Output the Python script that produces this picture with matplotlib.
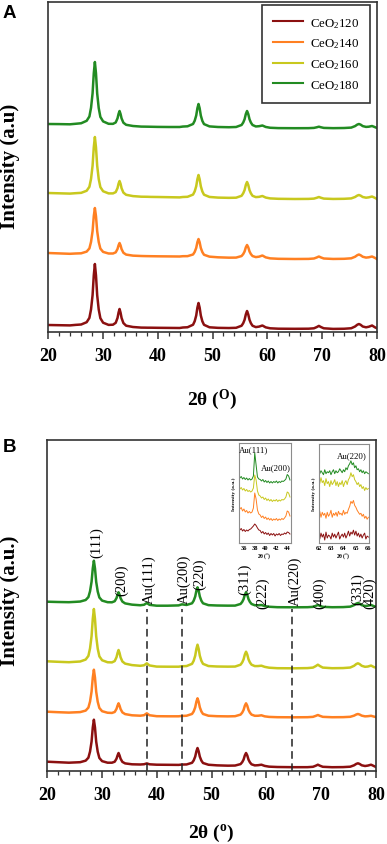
import matplotlib
matplotlib.use("Agg")
import matplotlib.pyplot as plt
from matplotlib.ticker import MultipleLocator

plt.rcParams['font.family'] = ['Liberation Serif', 'DejaVu Serif']
plt.rcParams['mathtext.fontset'] = 'custom'
plt.rcParams['mathtext.rm'] = 'Liberation Serif'
plt.rcParams['mathtext.it'] = 'Liberation Serif:italic'
plt.rcParams['mathtext.bf'] = 'Liberation Serif:bold'

# ---------------- data ----------------
two_theta = [20, 22, 24, 25, 26.05, 27.05, 27.55, 27.85, 28.13, 28.35,
             28.55, 28.75, 28.97, 29.25, 29.55, 30.05, 31.05, 31.85, 32.35, 32.68,
             32.87, 33.05, 33.23, 33.42, 33.75, 34.25, 35.5, 37.0, 37.7, 38.2,
             38.7, 40, 42, 44, 44.6, 45.45, 46.45, 46.75, 47.03, 47.25,
             47.45, 47.65, 47.87, 48.15, 48.45, 49.45, 51, 53, 54.3, 55.3,
             55.6, 55.85, 56.08, 56.3, 56.52, 56.75, 57.0, 57.3, 57.9, 58.5,
             59.1, 59.7, 60.5, 62, 65, 67.5, 68.5, 69.0, 69.4, 69.8,
             70.3, 72, 74, 75.3, 76.0, 76.4, 76.7, 77.0, 77.4, 78.0,
             78.5, 79.1, 79.6, 80]

samples = ['CeO$_2$120', 'CeO$_2$140', 'CeO$_2$160', 'CeO$_2$180']

# Panel A intensities (offset-stacked, arbitrary units)
a_ceo120 = [7, 6.8, 6.6, 7.1, 7.5, 9.8, 14.1, 22.7, 36.9, 56.7,
            68, 56.6, 36.8, 22.5, 13.8, 9.3, 7.1, 7.3, 9.2, 14.1,
            19.5, 23, 19.4, 14, 8.95, 6.3, 5.0, 4.4, 4.35, 4.3,
            4.3, 4.2, 4.1, 4.0, 4.5, 4.75, 7.25, 10.75, 16.5, 24.5,
            29, 24.5, 16.5, 10.7, 7.2, 4.7, 4.15, 3.97, 4.2, 6.25,
            8.8, 12.2, 17.6, 21, 17.6, 12.2, 8.8, 6.25, 4.9, 5.4,
            6.5, 4.65, 3.7, 3.3, 3.2, 3.3, 3.7, 4.9, 6.1, 4.9,
            3.7, 3.1, 3.25, 3.75, 5.5, 7.25, 8, 7.25, 5.5, 4.7,
            5.25, 6.5, 4.75, 3.7]
a_ceo140 = [79, 78.6, 78.2, 78.5, 78.7, 80.4, 83.6, 90.15, 100.9, 115.9,
            124, 115.85, 100.8, 90, 83.4, 80.1, 78.5, 78.5, 79.65, 83.05,
            86.75, 89, 86.65, 82.85, 79.25, 77.4, 76.35, 76, 75.9, 75.85,
            75.8, 75.7, 75.6, 75.5, 75.8, 75.85, 77.5, 80.05, 84.1, 89.9,
            93, 89.85, 84, 79.9, 77.25, 75.35, 74.7, 74.33, 74.4, 75.95,
            77.9, 80.5, 84.7, 87, 84.7, 80.5, 77.9, 75.95, 74.9, 75.35,
            76.5, 74.65, 73.65, 73.2, 73, 73.1, 73.5, 74.5, 75.5, 74.5,
            73.5, 73.05, 73.2, 73.7, 75.25, 76.8, 77.5, 76.8, 75.25, 74.4,
            74.7, 75.5, 74.2, 72.9]
a_ceo160 = [139, 138.7, 138.4, 138.8, 139.15, 141.25, 145.2, 153.15, 166.35, 184.75,
            195, 184.7, 166.25, 152.95, 144.9, 140.75, 138.6, 138.6, 139.9, 143.95,
            148.4, 151, 148.25, 143.7, 139.4, 137.2, 135.9, 135.3, 135.25, 135.2,
            135.1, 135, 134.8, 134.6, 135, 135.2, 137.4, 140.6, 145.75, 152.95,
            157, 152.9, 145.7, 140.5, 137.3, 135.05, 134.4, 134.16, 134.3, 136.2,
            138.7, 141.9, 147.1, 150, 147.1, 141.9, 138.7, 136.2, 134.9, 135.15,
            136, 134.45, 133.6, 133.2, 133, 133.1, 133.4, 134.2, 135, 134.2,
            133.4, 133.05, 133.2, 133.6, 135, 136.4, 137, 136.4, 135, 134.3,
            134.65, 135.5, 134.2, 133.0]
a_ceo180 = [208, 207.9, 207.7, 208.2, 208.75, 211.2, 215.5, 224.25, 238.7, 258.8,
            270, 258.75, 238.5, 223.95, 215.1, 210.6, 208.2, 208.15, 209.55, 213.7,
            218.15, 221, 218.05, 213.55, 209.3, 207.2, 206, 205.4, 205.35, 205.3,
            205.25, 205.1, 205, 205, 205.45, 205.7, 208, 211.2, 216.5, 223.9,
            228, 223.9, 216.45, 211.1, 207.9, 205.6, 205, 204.77, 205, 207,
            209.45, 212.75, 218, 221, 218, 212.75, 209.45, 207, 205.55, 205.8,
            206.5, 205.05, 204.25, 203.9, 203.8, 203.85, 204.1, 204.7, 205.3, 204.7,
            204.1, 203.85, 204, 204.4, 205.9, 207.4, 208, 207.4, 205.9, 205.1,
            205.3, 206, 204.9, 204.0]

# Panel B intensities (Au-loaded samples)
b_ceo120 = [9.3, 8.8, 8.3, 8.55, 8.8, 10.35, 13.3, 19.45, 29.5, 43.6,
            51.3, 43.55, 29.4, 19.25, 13, 9.85, 8.3, 8.3, 9.3, 12.35,
            15.6, 18, 15.6, 12.25, 9.1, 7.6, 6.7, 6.5, 6.75, 7.6,
            6.7, 6.3, 6.2, 6.1, 6.45, 6.55, 8.2, 10.55, 14.4, 19.8,
            23, 19.8, 14.35, 10.45, 8, 6.25, 5.65, 5.33, 5.45, 6.9,
            8.85, 11.4, 15.6, 18, 15.6, 11.35, 8.7, 6.7, 5.6, 5.8,
            6.3, 5.1, 4.35, 4.0, 3.8, 3.83, 4.2, 5.25, 6.3, 5.25,
            4.2, 3.78, 3.9, 4.3, 5.7, 7.1, 7.7, 7.1, 5.7, 5.0,
            5.4, 6.3, 5.0, 4.0]
b_ceo140 = [59.3, 58.8, 58.4, 58.65, 58.9, 60.4, 63.4, 69.45, 79.5, 93.45,
            101.3, 93.4, 79.35, 69.2, 63, 59.8, 58.25, 58.05, 59.05, 62.15,
            65.45, 67.7, 65.35, 61.9, 58.6, 56.9, 55.7, 55.3, 55.8, 57.7,
            55.75, 54.8, 54.7, 54.7, 55.05, 55.25, 57.05, 59.55, 63.7, 69.45,
            72.7, 69.45, 63.7, 59.55, 57.05, 55.25, 54.8, 54.63, 54.8, 56.4,
            58.4, 61.05, 65.3, 67.7, 65.3, 61.05, 58.4, 56.4, 55.2, 55.25,
            55.7, 54.65, 54.1, 53.8, 53.7, 53.8, 54.15, 55.1, 56, 55.1,
            54.15, 53.77, 53.85, 54.2, 55.35, 56.5, 57, 56.5, 55.35, 54.65,
            54.8, 55.2, 54.45, 53.9]
b_ceo160 = [109.7, 109.2, 108.8, 109.15, 109.5, 111.45, 115.1, 122.65, 135, 152.25,
            162, 152.15, 134.8, 122.3, 114.65, 110.75, 108.75, 108.6, 109.95, 113.9,
            118.15, 121, 118.05, 113.65, 109.5, 107.35, 105.9, 105.2, 105.7, 107.7,
            105.55, 104.4, 104.3, 104.3, 104.75, 104.95, 107.15, 110.25, 115.3, 122.3,
            126.3, 122.3, 115.3, 110.25, 107.15, 104.95, 104.5, 104.35, 104.45, 106.3,
            108.6, 111.65, 116.5, 119.3, 116.5, 111.65, 108.6, 106.3, 104.9, 104.95,
            105.3, 104.15, 103.3, 102.8, 102.7, 102.9, 103.4, 104.85, 106.3, 104.85,
            103.4, 102.8, 102.95, 103.45, 105.2, 106.95, 107.7, 106.95, 105.2, 104.2,
            104.45, 105.45, 104.0, 103.4]
b_ceo180 = [169.3, 169, 168.8, 169.1, 169.45, 171, 173.9, 179.75, 189.35, 202.7,
            210.3, 202.65, 189.2, 179.45, 173.5, 170.4, 168.8, 168.7, 169.8, 172.95,
            176.4, 178.7, 176.3, 172.75, 169.4, 167.6, 166.35, 165.75, 166.25, 168,
            166.15, 165.3, 165.3, 165.6, 166.65, 166.05, 167.7, 170.3, 174.5, 180.4,
            183.7, 180.4, 174.5, 170.3, 167.7, 165.85, 165.5, 165.35, 165.4, 167.05,
            169.1, 171.85, 176.25, 178.7, 176.25, 171.85, 169.1, 167.05, 165.75, 165.7,
            166, 164.95, 164.25, 163.8, 163.7, 163.8, 164.15, 165.1, 166, 165.1,
            164.15, 163.77, 163.9, 164.35, 165.85, 167.35, 168, 167.35, 165.85, 165,
            165.3, 166, 164.85, 164.1]

# Reflection labels (panel B)
hkl_labels = ['(111)', '(200)', 'Au(111)', 'Au(200)', '(220)', '(311)', '(222)',
              'Au(220)', '(400)', '(331)', '(420)']
hkl_x = [29.05, 33.6, 38.6, 45.0, 47.9, 56.1, 59.4, 65.2, 69.8, 76.6, 78.9]
hkl_y = [214, 176, 168, 168, 182, 177, 163, 166, 163, 167, 163]
au_lines = [38.2, 44.6, 64.7]
au_line_top = 162

# Inset 1 (Au(111), Au(200) region)
ins1_x = [35.0, 35.25, 35.5, 35.75, 36.0, 36.25, 36.5, 36.75, 37.0, 37.25, 37.5, 37.75,
          38.0, 38.25, 38.5, 38.75, 39.0, 39.25, 39.5, 39.75, 40.0, 40.25, 40.5, 40.75,
          41.0, 41.25, 41.5, 41.75, 42.0, 42.25, 42.5, 42.75, 43.0, 43.25, 43.5, 43.75,
          44.0, 44.25, 44.5]
ins1_120 = [15, 13, 14.5, 12, 13.5, 11.5, 13, 12, 13.5, 14, 15.5, 17, 19, 17.5, 15, 13, 12.5,
            10, 11.5, 9, 10.5, 8.5, 10, 7.5, 9.5, 8, 9.5, 7, 9, 8, 9.5, 7.5, 9, 8.5, 10, 9,
            11, 10.5, 9]
ins1_140 = [37, 34, 35.5, 32, 34, 31, 32.5, 30, 31.5, 30, 31, 35, 50, 44, 33, 29, 28, 25.5,
            27, 24.5, 26, 23.5, 25, 23, 24.5, 22.5, 24, 23, 24.5, 22.5, 24, 23, 24.5, 23.5,
            25, 27, 32, 31, 27]
ins1_160 = [56, 54, 55.5, 53, 54.5, 52, 53.5, 51.5, 52.5, 51, 52, 55, 68, 63, 52, 48, 47, 45,
            46, 43.5, 45, 42.5, 44, 42, 43.5, 41.5, 43, 42, 43.5, 41.5, 43, 42, 43.5, 43, 44,
            46, 51, 50, 46]
ins1_180 = [67, 65, 66.5, 64, 65.5, 63.5, 65, 63, 64.5, 63, 64, 67, 90, 78, 66, 64, 63.5, 62,
            63.5, 61, 62.5, 60.5, 62, 60, 61.5, 60, 61.5, 60.5, 62, 60, 61.5, 60.5, 62, 61.5,
            62.5, 64, 68.5, 67, 63]

# Inset 2 (Au(220) region)
ins2_x = [62.0, 62.1, 62.2, 62.3, 62.4, 62.5, 62.6, 62.7, 62.8, 62.9, 63.0, 63.1, 63.2, 63.3,
          63.4, 63.5, 63.6, 63.7, 63.8, 63.9, 64.0, 64.1, 64.2, 64.3, 64.4, 64.5, 64.6, 64.7,
          64.8, 64.9, 65.0, 65.1, 65.2, 65.3, 65.4, 65.5, 65.6, 65.7, 65.8, 65.9, 66.0]
ins2_120 = [8, 4, 10, 6, 9, 3, 11, 5, 8, 7, 4, 10, 6, 9, 5, 8, 11, 4, 7, 9, 6, 10, 5, 8, 12,
            7, 11, 9, 13, 8, 12, 7, 10, 6, 9, 5, 8, 10, 4, 7, 6]
ins2_140 = [29, 32, 26, 31, 28, 30, 25, 31, 27, 29, 33, 26, 30, 28, 31, 27, 32, 29, 30, 28, 33,
            29, 31, 30, 34, 37, 42, 40, 43, 38, 36, 33, 31, 29, 30, 27, 29, 25, 27, 24, 26]
ins2_160 = [64, 60, 66, 61, 63, 58, 65, 60, 62, 57, 63, 59, 61, 64, 58, 62, 57, 61, 59, 63, 57,
            61, 63, 59, 64, 66, 71, 67, 69, 64, 62, 59, 61, 57, 59, 55, 57, 53, 56, 54, 55]
ins2_180 = [72, 70, 73, 71, 69, 74, 70, 72, 71, 73, 69, 72, 74, 70, 73, 71, 72, 75, 73, 71, 74,
            72, 76, 74, 78, 80, 83, 79, 81, 76, 78, 74, 75, 72, 74, 71, 73, 70, 72, 71, 70]

colors = ['#8B1010', '#FF8022', '#C8C81E', '#228B22']

# ---------------- figure ----------------
W, H = 387, 845
fig = plt.figure(figsize=(W / 100, H / 100), dpi=100)


def fx(px):
    return px / W


def fy(py):
    return 1 - py / H


axA = fig.add_axes([fx(48), fy(333), fx(377) - fx(48), fy(3) - fy(333)])
axB = fig.add_axes([fx(47), fy(772), fx(376) - fx(47), fy(441) - fy(772)])

for ax in (axA, axB):
    ax.set_xlim(20, 80)
    ax.set_yticks([])
    ax.xaxis.set_major_locator(MultipleLocator(10))
    ax.xaxis.set_minor_locator(MultipleLocator(2))
    ax.tick_params(axis='x', which='major', direction='out', length=5, width=1.1,
                   pad=6, labelsize=13, color='#333333')
    ax.tick_params(axis='x', which='minor', direction='out', length=3, width=0.9,
                   color='#333333')
    for lab in ax.get_xticklabels():
        lab.set_fontweight('bold')
    for s in ax.spines.values():
        s.set_linewidth(1.2)
        s.set_color('#333333')

axA.set_ylim(0, 330)
axB.set_ylim(0, 331)

for ys, c, lab in zip([a_ceo120, a_ceo140, a_ceo160, a_ceo180], colors, samples):
    axA.plot(two_theta, ys, color=c, lw=1.8, label=lab, solid_joinstyle='round')
for ys, c in zip([b_ceo120, b_ceo140, b_ceo160, b_ceo180], colors):
    axB.plot(two_theta, ys, color=c, lw=1.8, solid_joinstyle='round')

leg = axA.legend(loc='upper left', bbox_to_anchor=(fx(262), fy(6)),
                 bbox_transform=fig.transFigure, borderaxespad=0, fontsize=9.3,
                 frameon=True, fancybox=False, edgecolor='black', handlelength=2.3,
                 handletextpad=0.55, labelspacing=0.53, borderpad=0.85)
leg.get_frame().set_linewidth(1.2)
for line in leg.get_lines():
    line.set_linewidth(1.5)

for lab, x, y in zip(hkl_labels, hkl_x, hkl_y):
    axB.text(x, y, lab, rotation=90, ha='center', va='bottom', fontsize=10.5)

for x in au_lines:
    axB.plot([x, x], [0, au_line_top], color='#222222', lw=1.1, ls=(0, (5, 3)))

# labels
fig.text(fx(212), fy(400), r'2θ ($^{\mathbf{O}}$)', ha='center', va='center',
         fontsize=14, fontweight='bold')
fig.text(fx(211), fy(833), r'2θ ($^{\mathbf{o}}$)', ha='center', va='center',
         fontsize=14, fontweight='bold')
fig.text(fx(10), fy(166), 'Intensity (a.u)', rotation=90, ha='center', va='center',
         fontsize=15, fontweight='bold')
fig.text(fx(10), fy(601), 'Intensity (a.u.)', rotation=90, ha='center', va='center',
         fontsize=15, fontweight='bold')
fig.text(fx(3), fy(14), 'A', ha='left', va='center', fontsize=13.5, fontweight='bold',
         family='Liberation Sans')
fig.text(fx(3), fy(448), 'B', ha='left', va='center', fontsize=13.5, fontweight='bold',
         family='Liberation Sans')

# insets
ins1 = fig.add_axes([fx(238.5), fy(544), fx(290.5) - fx(238.5), fy(444) - fy(544)])
ins2 = fig.add_axes([fx(318.5), fy(544), fx(369) - fx(318.5), fy(445) - fy(544)])
ins1.set_xlim(35.0, 44.6)
ins1.set_xticks([36, 38, 40, 42, 44])
ins2.set_xlim(62.0, 66.05)
ins2.set_xticks([62, 63, 64, 65, 66])
for ins in (ins1, ins2):
    ins.set_yticks([])
    ins.set_ylim(0, 100)
    ins.tick_params(axis='x', length=0, pad=1.5, labelsize=4.6)
    for lab in ins.get_xticklabels():
        lab.set_fontweight('bold')
    for s in ins.spines.values():
        s.set_linewidth(0.8)
        s.set_color('#8c8c8c')
    ins.set_xlabel(r'2θ ($^{o}$)', fontsize=4, fontweight='bold', labelpad=0)
    ins.set_ylabel('Intensity (a.u.)', fontsize=3.8, fontweight='bold', labelpad=1.5)

for ys, c in zip([ins1_120, ins1_140, ins1_160, ins1_180], colors):
    ins1.plot(ins1_x, ys, color=c, lw=0.7)
for ys, c in zip([ins2_120, ins2_140, ins2_160, ins2_180], colors):
    ins2.plot(ins2_x, ys, color=c, lw=0.7)

ins1.text(35.0, 94, 'Au(111)', fontsize=6.3, ha='left', va='center')
ins1.text(44.6, 76, 'Au(200)', fontsize=6.3, ha='right', va='center')
ins2.text(65.9, 89, 'Au(220)', fontsize=6.3, ha='right', va='center')

fig.savefig('out.png', dpi=100)
